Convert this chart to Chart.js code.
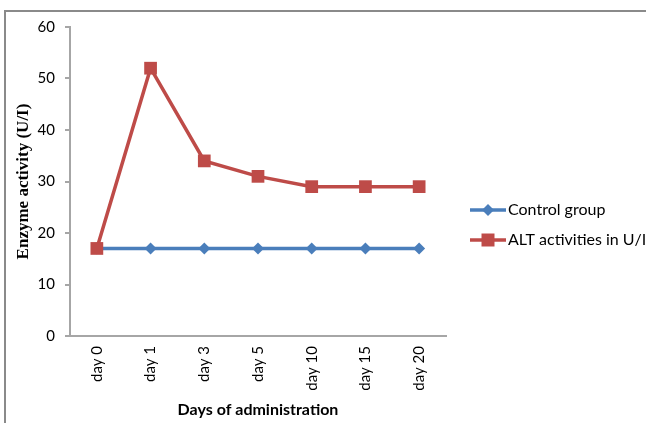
<!DOCTYPE html>
<html>
<head>
<meta charset="utf-8">
<script src="https://cdn.jsdelivr.net/npm/chart.js@4/dist/chart.umd.min.js"></script>
<style>
html,body{margin:0;padding:0;background:#fff;}
#wrap{width:646px;height:423px;position:relative;}
</style>
</head>
<body>
<div id="wrap"><canvas id="c" width="646" height="423"></canvas></div>
<script>
const categories = ["day 0", "day 1", "day 3", "day 5", "day 10", "day 15", "day 20"];
const controlGroup = [17, 17, 17, 17, 17, 17, 17];
const altActivities = [17, 52, 34, 31, 29, 29, 29];
const seriesNames = ["Control group", "ALT activities in U/I"];
const yTitle = "Enzyme activity (U/I)";
const xTitle = "Days of administration";

const BLUE = "#4A7EBB";
const RED = "#BE4B48";

const framePlugin = {
  id: "frame",
  beforeDraw(chart) {
    const ctx = chart.ctx;
    ctx.save();
    ctx.fillStyle = "#fff";
    ctx.fillRect(0, 0, chart.width, chart.height);
    ctx.strokeStyle = "#8a8a8a";
    ctx.lineWidth = 2;
    ctx.beginPath();
    ctx.moveTo(5, chart.height);
    ctx.lineTo(5, 11);
    ctx.lineTo(chart.width, 11);
    ctx.stroke();
    ctx.restore();
  }
};

const legendPlugin = {
  id: "sideLegend",
  afterDraw(chart) {
    const ctx = chart.ctx;
    ctx.save();
    const x0 = 470, lineLen = 36, gap = 30, yStart = 210;
    chart.data.datasets.forEach((ds, i) => {
      const y = yStart + i * gap;
      ctx.strokeStyle = ds.borderColor;
      ctx.lineWidth = ds.borderWidth;
      ctx.beginPath();
      ctx.moveTo(x0, y);
      ctx.lineTo(x0 + lineLen, y);
      ctx.stroke();
      const cx = x0 + lineLen / 2;
      ctx.fillStyle = ds.pointBackgroundColor;
      ctx.beginPath();
      if (ds.pointStyle === "rect") {
        const s = 6.5;
        ctx.rect(cx - s, y - s, 2 * s, 2 * s);
      } else {
        const r = 6;
        ctx.moveTo(cx, y - r);
        ctx.lineTo(cx + r, y);
        ctx.lineTo(cx, y + r);
        ctx.lineTo(cx - r, y);
        ctx.closePath();
      }
      ctx.fill();
      ctx.fillStyle = "#000";
      ctx.font = "16px Lato, 'Open Sans', sans-serif";
      ctx.textBaseline = "middle";
      ctx.textAlign = "left";
      ctx.fillText(ds.label, x0 + lineLen + 2, y);
    });
    ctx.restore();
  }
};

new Chart(document.getElementById("c"), {
  type: "line",
  data: {
    labels: categories,
    datasets: [
      {
        label: seriesNames[0],
        data: controlGroup,
        borderColor: BLUE,
        backgroundColor: BLUE,
        pointBackgroundColor: BLUE,
        pointBorderColor: BLUE,
        borderWidth: 3.5,
        pointStyle: "rectRot",
        pointRadius: 6,
        pointBorderWidth: 0,
        tension: 0,
        order: 1
      },
      {
        label: seriesNames[1],
        data: altActivities,
        borderColor: RED,
        backgroundColor: RED,
        pointBackgroundColor: RED,
        pointBorderColor: RED,
        borderWidth: 3.5,
        pointStyle: "rect",
        pointRadius: 9,
        pointBorderWidth: 0,
        tension: 0,
        order: 0
      }
    ]
  },
  options: {
    responsive: false,
    animation: false,
    devicePixelRatio: 1,
    layout: { padding: { left: 0, top: 27, right: 200, bottom: 0 } },
    plugins: {
      legend: { display: false },
      tooltip: { enabled: false }
    },
    scales: {
      x: {
        type: "category",
        offset: true,
        grid: { display: false, drawTicks: false },
        border: { display: true, color: "#a6a6a6", width: 2 },
        ticks: {
          minRotation: 90,
          maxRotation: 90,
          padding: 10,
          color: "#000",
          font: { family: "Lato, 'Open Sans', sans-serif", size: 15 }
        },
        title: {
          display: true,
          text: xTitle,
          color: "#000",
          padding: { top: 4, bottom: 4 },
          font: { family: "Lato, 'Open Sans', sans-serif", size: 16, weight: "bold" }
        },
        afterFit(scale) { scale.height = 87; }
      },
      y: {
        min: 0,
        max: 60,
        grid: { display: true, drawOnChartArea: false, drawTicks: true, tickLength: 5, color: "#a6a6a6", tickColor: "#a6a6a6", lineWidth: 2 },
        border: { display: true, color: "#a6a6a6", width: 2 },
        ticks: {
          stepSize: 10,
          padding: 10,
          color: "#000",
          font: { family: "Lato, 'Open Sans', sans-serif", size: 15 }
        },
        title: {
          display: true,
          text: yTitle,
          color: "#000",
          padding: { top: 13, bottom: 0 },
          font: { family: "'Liberation Serif', 'Times New Roman', serif", size: 17, weight: "bold" }
        },
        afterFit(scale) { scale.width = 70; }
      }
    }
  },
  plugins: [framePlugin, legendPlugin]
});
</script>
</body>
</html>
